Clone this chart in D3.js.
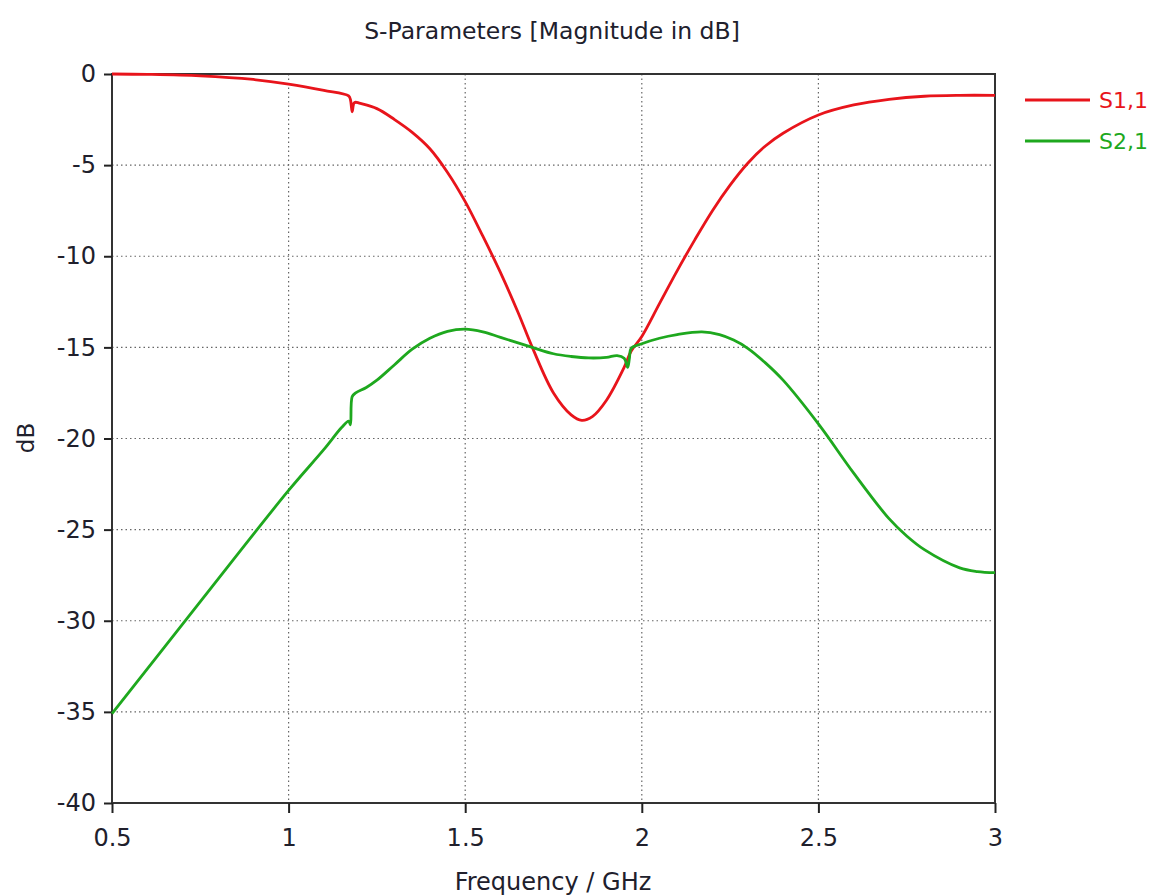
<!DOCTYPE html>
<html><head><meta charset="utf-8">
<script src="https://cdn.jsdelivr.net/npm/d3@7"></script>
<style>body{margin:0;background:#fff}text{font-family:"DejaVu Sans",Verdana,sans-serif}</style>
</head><body><svg id="c" width="1155" height="895"></svg>
<script>
const xTicks=[0.5,1,1.5,2,2.5,3];
const yTicks=[0,-5,-10,-15,-20,-25,-30,-35,-40];
const s11Freq=[0.5,0.6,0.75,0.9,1.0,1.1,1.17,1.175,1.18,1.185,1.19,1.2,1.25,1.3,1.35,1.4,1.45,1.5,1.55,1.6,1.65,1.69,1.75,1.8,1.83,1.86,1.9,1.95,1.97,2.0,2.05,2.1,2.15,2.2,2.25,2.3,2.35,2.4,2.5,2.6,2.7,2.8,2.9,3.0];
const s11dB=[0,-0.02,-0.1,-0.3,-0.55,-0.9,-1.2,-1.4,-2.07,-1.6,-1.55,-1.6,-1.9,-2.5,-3.2,-4.1,-5.4,-7.0,-8.9,-10.9,-13.1,-15.0,-17.5,-18.7,-19.0,-18.8,-17.9,-16.1,-15.2,-14.4,-12.6,-10.8,-9.1,-7.5,-6.1,-4.9,-3.95,-3.25,-2.25,-1.7,-1.39,-1.22,-1.17,-1.17];
const s21Freq=[0.5,0.75,1.0,1.1,1.15,1.17,1.175,1.18,1.19,1.22,1.25,1.3,1.35,1.4,1.45,1.5,1.55,1.6,1.69,1.75,1.8,1.85,1.9,1.93,1.95,1.96,1.965,1.97,2.0,2.05,2.1,2.17,2.22,2.26,2.3,2.35,2.4,2.5,2.6,2.7,2.75,2.8,2.9,2.95,3.0];
const s21dB=[-35.1,-28.95,-22.85,-20.6,-19.4,-19.05,-19.25,-17.7,-17.5,-17.2,-16.8,-15.95,-15.1,-14.5,-14.12,-14.0,-14.15,-14.45,-15.0,-15.35,-15.5,-15.58,-15.55,-15.45,-15.6,-16.1,-15.6,-15.05,-14.8,-14.5,-14.3,-14.15,-14.3,-14.6,-15.05,-15.85,-16.8,-19.2,-21.9,-24.4,-25.35,-26.1,-27.1,-27.3,-27.36];
const seriesNames=["S1,1","S2,1"];
const colors=["#e8141b","#1ea81e"];

const svg=d3.select("#c");
const m={l:112,r:995,t:74,b:803};
const x=d3.scaleLinear().domain([0.5,3]).range([m.l,m.r]);
const y=d3.scaleLinear().domain([-40,0]).range([m.b,m.t]);
const ink="#20202c";

// grid
svg.append("g").selectAll("line").data(xTicks.slice(1,-1)).join("line")
 .attr("x1",d=>x(d)).attr("x2",d=>x(d)).attr("y1",m.t).attr("y2",m.b)
 .attr("stroke","#666").attr("stroke-width",1.2).attr("stroke-dasharray","1.5,3");
svg.append("g").selectAll("line").data(yTicks.slice(1,-1)).join("line")
 .attr("y1",d=>y(d)).attr("y2",d=>y(d)).attr("x1",m.l).attr("x2",m.r)
 .attr("stroke","#666").attr("stroke-width",1.2).attr("stroke-dasharray","1.5,3");

// frame
svg.append("rect").attr("x",m.l).attr("y",m.t).attr("width",m.r-m.l).attr("height",m.b-m.t)
 .attr("fill","none").attr("stroke","#333").attr("stroke-width",2);

// axes
const xa=svg.append("g").attr("transform",`translate(0,${m.b})`)
 .call(d3.axisBottom(x).tickValues(xTicks).tickSize(10).tickPadding(16).tickFormat(d3.format("")));
const ya=svg.append("g").attr("transform",`translate(${m.l},0)`)
 .call(d3.axisLeft(y).tickValues(yTicks).tickSize(8).tickPadding(8).tickFormat(d=>d));
[xa,ya].forEach(a=>{a.select(".domain").remove();a.selectAll("line").attr("stroke","#222").attr("stroke-width",2);
 a.selectAll("text").attr("font-size",24).attr("fill",ink).attr("font-family","DejaVu Sans, Verdana, sans-serif");});

// lines
const line=d3.line().x(d=>x(d[0])).y(d=>y(d[1])).curve(d3.curveCatmullRom.alpha(0.5));
const data=[d3.zip(s11Freq,s11dB),d3.zip(s21Freq,s21dB)];
data.forEach((d,i)=>svg.append("path").datum(d).attr("d",line).attr("fill","none")
 .attr("stroke",colors[i]).attr("stroke-width",2.8).attr("stroke-linejoin","round"));

// title & labels
svg.append("text").attr("x",552).attr("y",39).attr("text-anchor","middle").attr("font-size",23.5).attr("fill",ink)
 .text("S-Parameters [Magnitude in dB]");
svg.append("text").attr("x",553).attr("y",890).attr("text-anchor","middle").attr("font-size",24).attr("fill",ink)
 .text("Frequency / GHz");
svg.append("text").attr("transform","translate(34,438) rotate(-90)").attr("text-anchor","middle").attr("font-size",23).attr("fill",ink)
 .text("dB");

// legend
const lg=svg.append("g").selectAll("g").data(seriesNames).join("g")
 .attr("transform",(d,i)=>`translate(1025,${100+i*41})`);
lg.append("line").attr("x1",0).attr("x2",65).attr("stroke",(d,i)=>colors[i]).attr("stroke-width",3);
lg.append("text").attr("x",74).attr("y",8).attr("font-size",22).attr("fill",(d,i)=>colors[i]).text(d=>d);
</script></body></html>
